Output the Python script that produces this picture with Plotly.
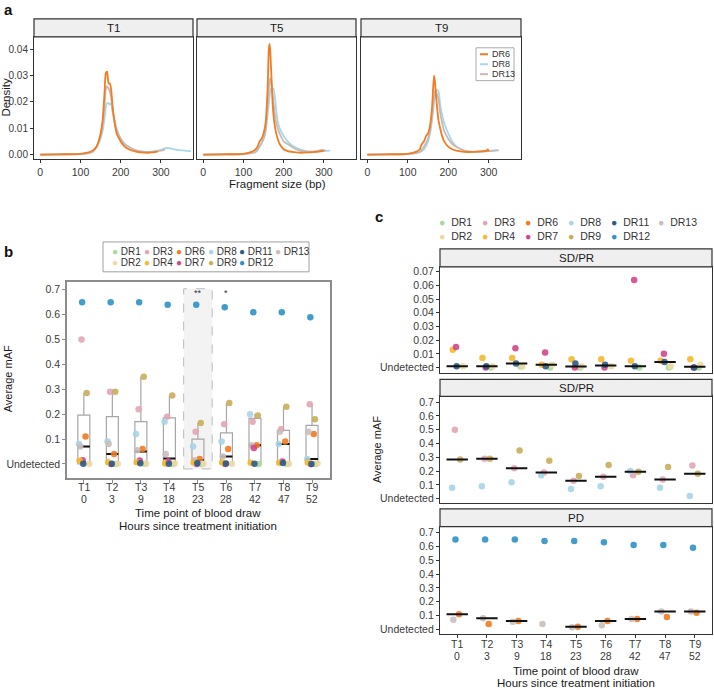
import plotly.graph_objects as go

W, H = 714, 692
def px(x): return x / W
def py(y): return 1 - y / H

FONT = "Arial, Liberation Sans, sans-serif"

# ---------------- Panel a data (fragment size densities) ----------------
t1_dr6_x = [0, 50, 100, 120, 130, 140, 150, 155, 160, 163, 166, 168, 170, 173, 176, 180, 185, 190, 200, 210, 220, 240, 260, 280, 292]
t1_dr6_y = [0, 0.0001, 0.0003, 0.0008, 0.0015, 0.003, 0.008, 0.013, 0.024, 0.031, 0.0315, 0.029, 0.027, 0.027, 0.025, 0.018, 0.012, 0.008, 0.005, 0.003, 0.002, 0.001, 0.0007, 0.0008, 0.0012]
t1_dr8_x = [0, 50, 100, 130, 140, 150, 155, 160, 163, 166, 170, 173, 176, 180, 185, 190, 200, 210, 220, 240, 260, 280, 300, 315, 325, 340, 360, 375]
t1_dr8_y = [0, 0.0001, 0.0002, 0.001, 0.003, 0.006, 0.009, 0.014, 0.018, 0.0195, 0.0195, 0.019, 0.0195, 0.016, 0.013, 0.010, 0.006, 0.004, 0.003, 0.0015, 0.001, 0.0012, 0.0018, 0.0025, 0.0023, 0.0018, 0.0015, 0.0012]
t1_dr13_x = [0, 50, 100, 130, 140, 150, 155, 160, 163, 166, 170, 173, 176, 180, 185, 190, 200, 210, 220, 240, 260, 280, 300, 310]
t1_dr13_y = [0, 0.0001, 0.0002, 0.001, 0.003, 0.007, 0.011, 0.019, 0.025, 0.026, 0.025, 0.024, 0.022, 0.017, 0.012, 0.009, 0.006, 0.004, 0.003, 0.0015, 0.001, 0.001, 0.0015, 0.002]

t5_dr6_x = [0, 50, 100, 120, 130, 135, 140, 145, 150, 155, 160, 163, 165, 167, 170, 173, 176, 180, 185, 190, 200, 210, 220, 240, 260, 280, 300]
t5_dr6_y = [0, 0.0001, 0.0003, 0.001, 0.002, 0.003, 0.005, 0.006, 0.008, 0.012, 0.025, 0.040, 0.042, 0.038, 0.028, 0.018, 0.013, 0.009, 0.006, 0.004, 0.002, 0.0013, 0.001, 0.0007, 0.0008, 0.001, 0.0015]
t5_dr8_x = [0, 50, 100, 130, 140, 150, 155, 160, 165, 168, 172, 175, 178, 182, 186, 190, 200, 210, 220, 240, 260, 280, 300, 315]
t5_dr8_y = [0, 0.0001, 0.0002, 0.001, 0.003, 0.006, 0.009, 0.015, 0.022, 0.025, 0.0245, 0.025, 0.022, 0.016, 0.012, 0.010, 0.007, 0.005, 0.0035, 0.002, 0.0012, 0.0012, 0.0013, 0.0015]
t5_dr13_x = [0, 50, 100, 130, 140, 150, 155, 160, 165, 167, 170, 173, 176, 180, 185, 190, 200, 210, 220, 240, 260, 280, 295, 305]
t5_dr13_y = [0, 0.0001, 0.0002, 0.001, 0.003, 0.006, 0.009, 0.018, 0.028, 0.029, 0.026, 0.022, 0.018, 0.013, 0.010, 0.008, 0.005, 0.004, 0.003, 0.0015, 0.001, 0.0012, 0.0018, 0.0015]

t9_dr6_x = [0, 50, 100, 120, 130, 132, 135, 140, 145, 150, 155, 160, 163, 165, 167, 170, 173, 176, 180, 185, 190, 200, 210, 220, 240, 260, 280, 295, 298, 300]
t9_dr6_y = [0, 0.0001, 0.0003, 0.001, 0.002, 0.003, 0.004, 0.005, 0.007, 0.008, 0.011, 0.018, 0.026, 0.030, 0.028, 0.022, 0.017, 0.013, 0.010, 0.007, 0.005, 0.003, 0.002, 0.0015, 0.001, 0.001, 0.0012, 0.0015, 0.002, 0.0012]
t9_dr8_x = [0, 50, 100, 130, 140, 150, 155, 160, 165, 168, 172, 176, 180, 185, 190, 200, 210, 220, 240, 260, 280, 300, 320]
t9_dr8_y = [0, 0.0001, 0.0002, 0.001, 0.002, 0.005, 0.008, 0.013, 0.020, 0.0235, 0.0245, 0.024, 0.019, 0.015, 0.012, 0.008, 0.005, 0.003, 0.0015, 0.001, 0.001, 0.0013, 0.0015]
t9_dr13_x = [0, 50, 100, 130, 140, 150, 155, 160, 165, 168, 172, 176, 180, 185, 190, 200, 210, 220, 240, 260, 280, 300, 320, 325]
t9_dr13_y = [0, 0.0001, 0.0002, 0.001, 0.003, 0.006, 0.009, 0.015, 0.022, 0.0245, 0.023, 0.021, 0.016, 0.012, 0.009, 0.006, 0.004, 0.003, 0.0015, 0.001, 0.0012, 0.0013, 0.0017, 0.0015]

frag_titles = ["T1", "T5", "T9"]
frag_ticks = [0, 100, 200, 300]
dens_ticks = [0.00, 0.01, 0.02, 0.03, 0.04]
dens_ticktext = ["0.00", "0.01", "0.02", "0.03", "0.04"]

# ---------------- Panels b / c data (average mAF) ----------------
time_points = ["T1", "T2", "T3", "T4", "T5", "T6", "T7", "T8", "T9"]
hours = ["0", "3", "9", "18", "23", "28", "42", "47", "52"]

dr1 = [None, 0.0, 0.0008, 0.0, 0.0, None, 0.0, 0.0, 0.0]
dr2 = [0.001, 0.001, 0.0008, 0.002, 0.001, 0.001, None, 0.001, 0.002]
dr3 = [0.50, 0.29, 0.22, 0.19, 0.13, 0.16, 0.17, 0.14, 0.24]
dr4 = [0.013, 0.007, 0.007, 0.002, 0.006, 0.006, 0.005, 0.005, 0.006]
dr6 = [0.11, 0.04, 0.06, None, 0.02, 0.06, 0.075, 0.09, 0.12]
dr7 = [0.015, 0.0, 0.014, 0.011, 0.0, 0.0, 0.064, 0.010, 0.0]
dr8 = [0.08, 0.09, 0.12, 0.17, 0.07, 0.09, 0.20, 0.08, 0.02]
dr9 = [0.285, 0.29, 0.35, 0.275, 0.165, 0.245, 0.195, 0.23, 0.18]
dr11 = [0.001, 0.001, 0.003, 0.001, 0.003, 0.002, 0.001, 0.004, 0.0]
dr12 = [0.65, 0.65, 0.65, 0.64, 0.64, 0.63, 0.61, 0.61, 0.59]
dr13 = [0.07, 0.08, 0.055, 0.04, 0.015, 0.03, 0.075, 0.13, 0.13]

# box-plot summary (panel b)
box_q1 = [0, 0, 0, 0, 0, 0, 0, 0, 0]
box_median = [0.07, 0.04, 0.05, 0.022, 0.015, 0.03, 0.075, 0.08, 0.02]
box_q3 = [0.196, 0.19, 0.17, 0.185, 0.10, 0.125, 0.183, 0.135, 0.155]
box_upper = [0.285, 0.29, 0.35, 0.275, 0.165, 0.245, 0.20, 0.23, 0.24]

# group medians (panel c)
med_top = [0.001, 0.001, 0.003, 0.002, 0.0008, 0.0015, 0.001, 0.004, 0.0005]
med_mid = [0.285, 0.29, 0.22, 0.19, 0.13, 0.16, 0.195, 0.14, 0.18]
med_pd = [0.11, 0.08, 0.06, None, 0.02, 0.06, 0.075, 0.13, 0.13]

sig_labels = ["", "", "", "", "**", "*", "", "", ""]

series = {"DR1": dr1, "DR2": dr2, "DR3": dr3, "DR4": dr4, "DR6": dr6, "DR7": dr7,
          "DR8": dr8, "DR9": dr9, "DR11": dr11, "DR12": dr12, "DR13": dr13}
group_top = ["DR1", "DR2", "DR4", "DR7", "DR11"]
group_mid = ["DR3", "DR8", "DR9"]
group_pd = ["DR6", "DR12", "DR13"]
legend_row1 = ["DR1", "DR3", "DR6", "DR8", "DR11", "DR13"]
legend_row2 = ["DR2", "DR4", "DR7", "DR9", "DR12"]

# ---------------- styles ----------------
COL = {"DR1": "#A9D89F", "DR2": "#EDD9A3", "DR3": "#E3A5B2", "DR4": "#F6B82E",
       "DR6": "#F07B22", "DR7": "#D2468A", "DR8": "#A8D4E6", "DR9": "#C8AE5B",
       "DR11": "#2F5B86", "DR12": "#2D92C8", "DR13": "#C9BEBB"}
JIT = {"DR1": 0.13, "DR2": 0.19, "DR3": -0.08, "DR4": -0.15, "DR6": 0.06, "DR7": -0.04,
       "DR8": -0.17, "DR9": 0.1, "DR11": -0.02, "DR12": -0.06, "DR13": -0.13}
DENS_COL = {"DR6": "#F37B21", "DR8": "#A9D7E8", "DR13": "#C6BAB7"}
TICKC = "#3A3A3A"
TXT = "#1A1A1A"

cat_x = list(range(1, len(time_points) + 1))

fig = go.Figure()
shapes, annos = [], []

def axis_style(dom, linecolor, lw, **kw):
    d = dict(domain=dom, showline=True, mirror=True, linecolor=linecolor, linewidth=lw,
             ticks="outside", ticklen=3, tickcolor=linecolor, showgrid=False, zeroline=False,
             tickfont=dict(family=FONT, size=10.5, color=TICKC), fixedrange=True)
    d.update(kw)
    return d

def text(x, y, s, size=11, color=TXT, **kw):
    d = dict(x=px(x), y=py(y), xref="paper", yref="paper", text=s, showarrow=False,
             xanchor="center", yanchor="middle", font=dict(family=FONT, size=size, color=color))
    d.update(kw)
    annos.append(d)

def strip(x0, x1, y0, y1, label):
    shapes.append(dict(type="rect", xref="paper", yref="paper", x0=px(x0), x1=px(x1),
                       y0=py(y1), y1=py(y0), fillcolor="#EFEFEF", line=dict(color="#333333", width=1.2)))
    text((x0 + x1) / 2, (y0 + y1) / 2, label, size=11.5)

def cat_labels(xref, y_top):
    for c, t, h in zip(cat_x, time_points, hours):
        for s, yy in ((t, y_top), (h, y_top + 12)):
            annos.append(dict(x=c, y=py(yy), xref=xref, yref="paper", text=s, showarrow=False,
                              xanchor="center", yanchor="middle",
                              font=dict(family=FONT, size=10.5, color=TICKC)))

# ---------------- Panel a ----------------
a_xdom = [(34, 193), (197, 356), (361, 521)]
a_curves = [
    [("DR6", t1_dr6_x, t1_dr6_y), ("DR8", t1_dr8_x, t1_dr8_y), ("DR13", t1_dr13_x, t1_dr13_y)],
    [("DR6", t5_dr6_x, t5_dr6_y), ("DR8", t5_dr8_x, t5_dr8_y), ("DR13", t5_dr13_x, t5_dr13_y)],
    [("DR6", t9_dr6_x, t9_dr6_y), ("DR8", t9_dr8_x, t9_dr8_y), ("DR13", t9_dr13_x, t9_dr13_y)],
]
layout_axes = {}
for i, ((x0, x1), curves, title) in enumerate(zip(a_xdom, a_curves, frag_titles)):
    n = i + 1
    xs = "x" if n == 1 else f"x{n}"
    ys = "y" if n == 1 else f"y{n}"
    for name, xv, yv in [curves[1], curves[2], curves[0]]:
        fig.add_trace(go.Scatter(x=xv, y=yv, mode="lines",
                                 line=dict(color=DENS_COL[name], width=1.8, shape="spline", smoothing=0.6),
                                 xaxis=xs, yaxis=ys, showlegend=False, hoverinfo="skip"))
    layout_axes["xaxis" if n == 1 else f"xaxis{n}"] = axis_style(
        [px(x0), px(x1)], "#333333", 1, range=[-15.6, 379.8], tickvals=frag_ticks, anchor=ys)
    yk = "yaxis" if n == 1 else f"yaxis{n}"
    if n == 1:
        layout_axes[yk] = axis_style([py(159), py(36)], "#333333", 1, range=[-0.0018, 0.0447],
                                     tickvals=dens_ticks, ticktext=dens_ticktext, anchor=xs,
                                     tickfont=dict(family=FONT, size=10, color=TICKC))
    else:
        layout_axes[yk] = axis_style([py(159), py(36)], "#333333", 1, range=[-0.0018, 0.0447],
                                     tickvals=dens_ticks, showticklabels=False, ticks="", anchor=xs)
    strip(x0, x1, 18, 36, title)

text(6, 97, "Density", size=11.5, textangle=-90)
text(277, 184, "Fragment size (bp)", size=11.5)
# panel a legend
shapes.append(dict(type="rect", xref="paper", yref="paper", x0=px(476), x1=px(514), y0=py(80), y1=py(47),
                   fillcolor="white", line=dict(color="#AAAAAA", width=1)))
for name, yy in zip(["DR6", "DR8", "DR13"], [53.5, 63.5, 73.5]):
    shapes.append(dict(type="line", xref="paper", yref="paper", x0=px(480), x1=px(488), y0=py(yy), y1=py(yy),
                       line=dict(color=DENS_COL[name], width=2)))
    text(490, yy, name, size=9, color="#333333", xanchor="left")

# ---------------- Panel b ----------------
fig.add_trace(go.Box(x=cat_x, q1=box_q1, median=box_median, q3=box_q3, lowerfence=box_q1, upperfence=box_upper,
                     width=0.42, whiskerwidth=0, fillcolor="rgba(0,0,0,0)", line=dict(color="#A6A6A6", width=1.2),
                     xaxis="x4", yaxis="y4", showlegend=False, hoverinfo="skip"))
mx, my = [], []
for c, m in zip(cat_x, box_median):
    mx += [c - 0.21, c + 0.21, None]
    my += [m, m, None]
fig.add_trace(go.Scatter(x=mx, y=my, mode="lines", line=dict(color="#111111", width=2),
                         xaxis="x4", yaxis="y4", showlegend=False, hoverinfo="skip"))
for name in ["DR12", "DR3", "DR9", "DR8", "DR6", "DR13", "DR7", "DR1", "DR2", "DR4", "DR11"]:
    fig.add_trace(go.Scatter(x=[c + JIT[name] for c in cat_x], y=series[name], mode="markers",
                             marker=dict(color=COL[name], size=6.5, opacity=0.9),
                             xaxis="x4", yaxis="y4", showlegend=False, hoverinfo="skip"))
shapes.append(dict(type="rect", xref="x4", yref="y4", x0=4.5, x1=5.5, y0=-0.02, y1=0.704, layer="below",
                   fillcolor="#F3F3F3", line=dict(color="#BBBBBB", width=1, dash="dash")))
for c, s in zip(cat_x, sig_labels):
    if s:
        annos.append(dict(x=c, y=0.688, xref="x4", yref="y4", text=s, showarrow=False,
                          font=dict(family=FONT, size=9, color="#333333")))
b_yt = [0, 0.1, 0.2, 0.3, 0.4, 0.5, 0.6, 0.7]
b_ytt = ["Undetected", "0.1", "0.2", "0.3", "0.4", "0.5", "0.6", "0.7"]
layout_axes["xaxis4"] = axis_style([px(67), px(330)], "#8C8C8C", 1.5, range=[0.41, 9.63],
                                   tickvals=cat_x, showticklabels=False, anchor="y4")
layout_axes["yaxis4"] = axis_style([py(479), py(282)], "#8C8C8C", 1.5, range=[-0.056, 0.732],
                                   tickvals=b_yt, ticktext=b_ytt, anchor="x4")
cat_labels("x4", 488)
text(198, 514, "Time point of blood draw", size=11.5)
text(198, 527, "Hours since treatment initiation", size=11.5)
text(8, 380, "Average mAF", size=11, textangle=-90)

# panel b legend (boxed)
b_dot_x = [110, 142, 174, 206, 237, 273]
shapes.append(dict(type="rect", xref="paper", yref="paper", x0=px(103), x1=px(309),
                   y0=py(272), y1=py(242), line=dict(color="#A0A0A0", width=1)))
for row, names in enumerate([legend_row1, legend_row2]):
    for dx, name in zip(b_dot_x, names):
        text(dx, 252 + row * 11, f"<span style='color:{COL[name]}'>●</span> {name}", size=10,
             color="#333333", xanchor="left")

# panel c legend
c_dot_x = [437, 480, 523, 566, 609, 656]
for row, names in enumerate([legend_row1, legend_row2]):
    for dx, name in zip(c_dot_x, names):
        text(dx, 222 + row * 14, f"<span style='color:{COL[name]}'>●</span>  {name}", size=10.5,
             color="#333333", xanchor="left")

# ---------------- Panel c ----------------
c_specs = [
    ("x5", "y5", group_top, med_top, (267, 374), (249, 267), "SD/PR", [-0.0043, 0.0736],
     [0, 0.01, 0.02, 0.03, 0.04, 0.05, 0.06, 0.07], ["Undetected", "0.01", "0.02", "0.03", "0.04", "0.05", "0.06", "0.07"]),
    ("x6", "y6", group_mid, med_mid, (397, 504), (380, 397), "SD/PR", [-0.03, 0.743], b_yt, b_ytt),
    ("x7", "y7", group_pd, med_pd, (528, 636), (510, 528), "PD", [-0.035, 0.743], b_yt, b_ytt),
]
for k, (xs, ys, grp, med, (yt, yb), (st, sb), stitle, yr, ytv, ytt) in enumerate(c_specs):
    for name in grp:
        fig.add_trace(go.Scatter(x=[c + JIT[name] for c in cat_x], y=series[name], mode="markers",
                                 marker=dict(color=COL[name], size=6.5, opacity=0.9),
                                 xaxis=xs, yaxis=ys, showlegend=False, hoverinfo="skip"))
    mx, my = [], []
    for c, m in zip(cat_x, med):
        if m is None:
            continue
        mx += [c - 0.36, c + 0.36, None]
        my += [m, m, None]
    fig.add_trace(go.Scatter(x=mx, y=my, mode="lines", line=dict(color="#111111", width=2),
                             xaxis=xs, yaxis=ys, showlegend=False, hoverinfo="skip"))
    last = (k == 2)
    layout_axes["xaxis" + xs[1:]] = axis_style([px(440), px(712)], "#333333", 1.3, range=[0.42, 9.58],
                                               tickvals=cat_x, showticklabels=False, anchor=ys,
                                               ticks="outside" if last else "")
    layout_axes["yaxis" + ys[1:]] = axis_style([py(yb), py(yt)], "#333333", 1.3, range=yr,
                                               tickvals=ytv, ticktext=ytt, anchor=xs)
    strip(440, 712, st, sb, stitle)

cat_labels("x7", 646)
text(576, 673, "Time point of blood draw", size=11.5)
text(576, 685, "Hours since treatment initiation", size=11.5)
text(377, 451, "Average mAF", size=11, textangle=-90)

# panel letters
text(8, 9, "<b>a</b>", size=15, color="#111111")
text(8, 252, "<b>b</b>", size=15, color="#111111")
text(379, 216, "<b>c</b>", size=15, color="#111111")

fig.update_layout(width=W, height=H, margin=dict(l=0, r=0, t=0, b=0), paper_bgcolor="white",
                  plot_bgcolor="white", shapes=shapes, annotations=annos, showlegend=False, **layout_axes)
fig.write_html("out.html", config={"displayModeBar": False},
               post_script="document.body.style.margin='0px';document.documentElement.style.overflow='hidden';")
